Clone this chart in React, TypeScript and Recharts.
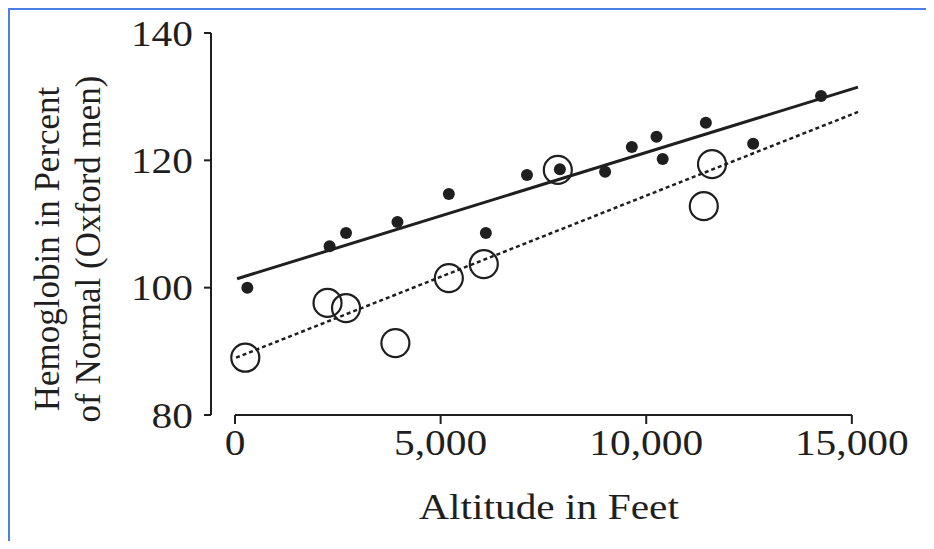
import React from 'react'
import { ScatterChart, Scatter, XAxis, YAxis, ReferenceLine } from 'recharts'

// axis ticks
const xTicks = [0, 5000, 10000, 15000]
const yTicks = [80, 100, 120, 140]

// filled dots
const dotAltitude = [300, 2300, 2700, 3950, 5200, 6100, 7100, 7900, 9000, 9650, 10250, 10400, 11450, 12600, 14250]
const dotHemoglobin = [100, 106.5, 108.6, 110.3, 114.7, 108.6, 117.7, 118.6, 118.2, 122.1, 123.7, 120.2, 125.9, 122.6, 130.1]

// open circles
const ringAltitude = [250, 2250, 2700, 3900, 5200, 6050, 7850, 11400, 11600]
const ringHemoglobin = [89, 97.6, 96.8, 91.3, 101.5, 103.7, 118.5, 112.8, 119.4]

// fitted lines (end points)
const solidFitAltitude = [50, 15150]
const solidFitHemoglobin = [101.4, 131.5]
const dottedFitAltitude = [25, 15150]
const dottedFitHemoglobin = [89, 127.6]

const toPoints = (xs: number[], ys: number[]) => xs.map((x, i) => ({ x, y: ys[i] }))

const dots = toPoints(dotAltitude, dotHemoglobin)
const rings = toPoints(ringAltitude, ringHemoglobin)
const solidFit = toPoints(solidFitAltitude, solidFitHemoglobin)
const dottedFit = toPoints(dottedFitAltitude, dottedFitHemoglobin)

const ink = '#1f1f1f'
const serif = 'Liberation Serif, Times New Roman, Times, serif'
const stretch = 'scale(1.15,1)'

const XTick = (props: any) => {
  const { x, y, payload } = props
  return (
    <g transform={`translate(${x},${y})`}>
      <text transform={stretch} textAnchor="middle" dy="0.71em" fontSize={36} fill={ink} style={{ fontFamily: serif }}>
        {Number(payload.value).toLocaleString('en-US')}
      </text>
    </g>
  )
}

const YTick = (props: any) => {
  const { x, y, payload } = props
  return (
    <g transform={`translate(${x},${y})`}>
      <text transform={stretch} textAnchor="end" dy="0.35em" fontSize={36} fill={ink} style={{ fontFamily: serif }}>
        {payload.value}
      </text>
    </g>
  )
}

const YLabel = () => (
  <g style={{ fontFamily: serif }} fontSize={35} fill={ink}>
    <text transform="translate(37,239) rotate(-90)" textAnchor="middle" dominantBaseline="central">
      Hemoglobin in Percent
    </text>
    <text transform="translate(78,239) rotate(-90)" textAnchor="middle" dominantBaseline="central">
      of Normal (Oxford men)
    </text>
  </g>
)

const XLabel = () => (
  <text
    transform={`translate(539,496) ${stretch}`}
    textAnchor="middle"
    dominantBaseline="central"
    style={{ fontFamily: serif }}
    fontSize={36}
    fill={ink}
  >
    Altitude in Feet
  </text>
)

const Dot = (props: any) => <circle cx={props.cx} cy={props.cy} r={6} fill={ink} />
const Ring = (props: any) => <circle cx={props.cx} cy={props.cy} r={14} fill="none" stroke={ink} strokeWidth={2.2} />

const App: React.FC = () => {
  return (
    <div style={{ width: '916px', height: '531px', borderTop: '2px solid #4a7fe6', borderLeft: '2px solid #4a7fe6', background: '#fff' }}>
      <ScatterChart width={916} height={531} margin={{ top: 23, right: 68, bottom: 66, left: 101 }}>
        <XAxis
          type="number"
          dataKey="x"
          domain={[-584, 15150]}
          ticks={xTicks}
          axisLine={false}
          tickLine={{ stroke: ink, strokeWidth: 2 }}
          tickSize={9}
          tickMargin={5}
          tick={<XTick />}
          height={60}
          label={() => <XLabel />}
        />
        <YAxis
          type="number"
          dataKey="y"
          domain={[80, 140]}
          ticks={yTicks}
          axisLine={{ stroke: ink, strokeWidth: 2 }}
          tickLine={{ stroke: ink, strokeWidth: 2 }}
          tickSize={7}
          tickMargin={11}
          tick={<YTick />}
          width={100}
          label={() => <YLabel />}
        />
        <ReferenceLine segment={[{ x: 0, y: 80 }, { x: 15000, y: 80 }]} stroke={ink} strokeWidth={2} />
        <ReferenceLine segment={solidFit} stroke={ink} strokeWidth={3} />
        <ReferenceLine segment={dottedFit} stroke={ink} strokeWidth={2.5} strokeDasharray="4 3" />
        <Scatter data={dots} shape={<Dot />} isAnimationActive={false} />
        <Scatter data={rings} shape={<Ring />} isAnimationActive={false} />
      </ScatterChart>
    </div>
  )
}

export default App
